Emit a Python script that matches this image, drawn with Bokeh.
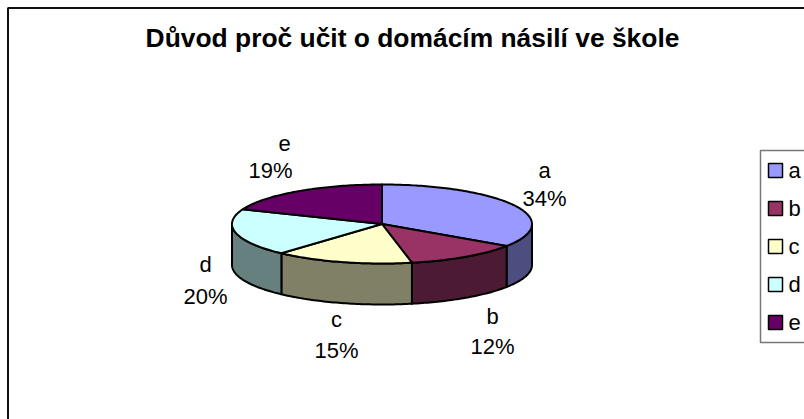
import math
from bokeh.plotting import figure
from bokeh.embed import file_html
from bokeh.resources import INLINE
from bokeh.core.properties import value

title = "Důvod proč učit o domácím násilí ve škole"
categories = ["a", "b", "c", "d", "e"]
values = [34.4, 12.4, 14.9, 19.4, 18.9]
labels = ["34%", "12%", "15%", "20%", "19%"]
top_colors = ["#9999FF", "#993366", "#FFFFCC", "#CCFFFF", "#660066"]
side_colors = ["#4D4D80", "#4D1A33", "#808066", "#668080", "#330033"]

W, H = 804, 419
CX, CY, RX, RY, DEPTH = 381.5, 223.5, 150, 39.5, 41

p = figure(width=W, height=H, x_range=(0, W), y_range=(H, 0), output_backend="svg",
           toolbar_location=None, min_border=0, outline_line_color=None,
           background_fill_color="white", border_fill_color="white")
p.axis.visible = False
p.grid.visible = False

# chart frame (runs off the right and bottom of the picture)
p.patch([7.5, 830, 830, 7.5], [7.5, 7.5, 440, 440], fill_color="white",
        line_color="#111111", line_width=2)


def pt(deg, dy=0.0):
    r = math.radians(deg)
    return CX + RX * math.sin(r), CY - RY * math.cos(r) + dy


def arc(a0, a1, dy=0.0):
    n = max(2, int(abs(a1 - a0)) + 1)
    return [pt(a0 + (a1 - a0) * i / (n - 1), dy) for i in range(n)]


total = sum(values)
edges = [0.0]
for v in values:
    edges.append(edges[-1] + 360.0 * v / total)

# side walls: only the part of each slice facing the viewer (90..270 deg)
sx, sy, sc = [], [], []
for i in range(len(values)):
    a0, a1 = max(edges[i], 90), min(edges[i + 1], 270)
    if a1 <= a0:
        continue
    upper = arc(a0, a1)
    lower = arc(a1, a0, DEPTH)
    sx.append([q[0] for q in upper + lower])
    sy.append([q[1] for q in upper + lower])
    sc.append(side_colors[i])
p.patches(sx, sy, fill_color=sc, line_color="black", line_width=2, line_join="round")

# top face
tx, ty = [], []
for i in range(len(values)):
    ring = [(CX, CY)] + arc(edges[i], edges[i + 1])
    tx.append([q[0] for q in ring])
    ty.append([q[1] for q in ring])
p.patches(tx, ty, fill_color=top_colors, line_color="black", line_width=2, line_join="round")

# slice labels
cat_x = [544, 492, 336, 205, 284]
cat_y = [170, 316, 319, 264, 143]
pct_x = [544, 492, 336, 205, 270]
pct_y = [198, 346, 350, 296, 170]
FONT = value("Liberation Sans")
p.text(cat_x, cat_y, text=categories, text_font=FONT, text_font_size="22px",
       text_align="center", text_baseline="middle", text_color="black")
p.text(pct_x, pct_y, text=labels, text_font=FONT, text_font_size="22px",
       text_align="center", text_baseline="middle", text_color="black")

# title
p.text([412], [37], text=[title], text_font=FONT, text_font_size="26.4px", text_font_style="bold",
       text_align="center", text_baseline="middle", text_color="black")

# legend
p.patch([760, 830, 830, 760], [150, 150, 342, 342], fill_color="white",
        line_color="#777777", line_width=1.5)
leg_y = [170, 208, 246, 284, 322]
p.rect([775] * 5, leg_y, width=14, height=14, fill_color=top_colors,
       line_color="black", line_width=1.5)
p.text([788] * 5, leg_y, text=categories, text_font=FONT, text_font_size="22px",
       text_align="left", text_baseline="middle", text_color="black")

open("out.html", "w").write(file_html(p, INLINE))
